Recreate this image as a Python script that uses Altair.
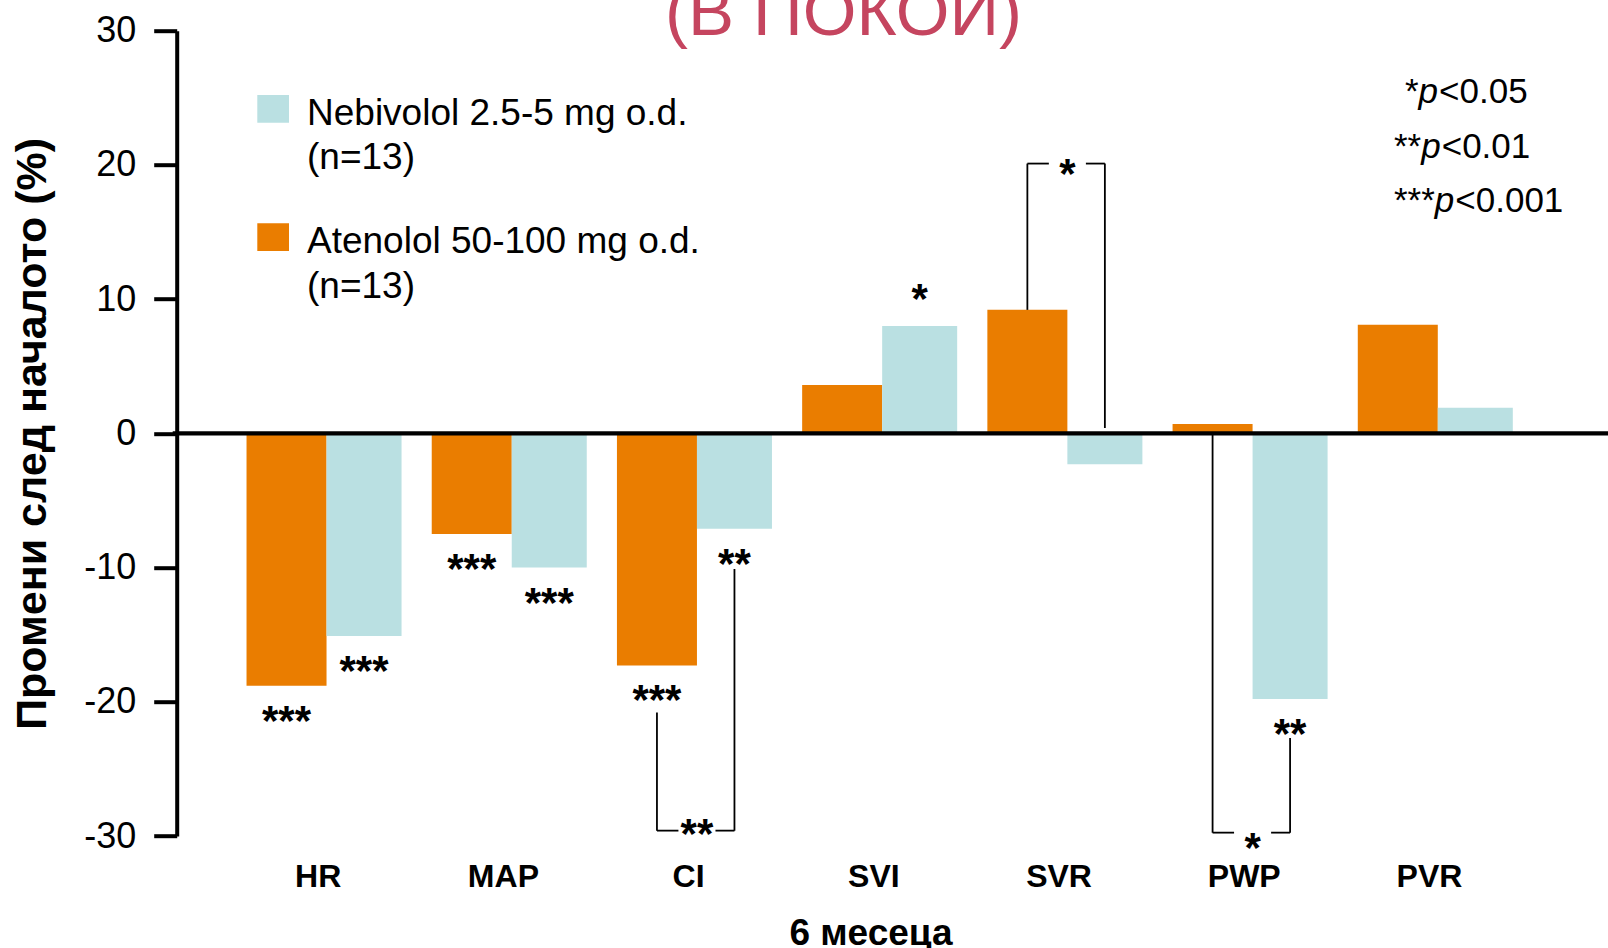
import altair as alt
import pandas as pd

# ---- data -------------------------------------------------------------
categories = ["HR", "MAP", "CI", "SVI", "SVR", "PWP", "PVR"]
atenolol = [-18.8, -7.5, -17.3, 3.6, 9.2, 0.7, 8.1]
nebivolol = [-15.1, -10.0, -7.1, 8.0, -2.3, -19.8, 1.9]

# significance marks on single bars (empty = none)
atenolol_sig = ["***", "***", "***", "", "", "", ""]
nebivolol_sig = ["***", "***", "**", "*", "", "**", ""]

# between-group brackets: category, level, left end, right end, label, label level
bracket_cat = ["CI", "SVR", "PWP"]
bracket_level = [-29.6, 20.1, -29.75]
bracket_left_end = [-20.8, 9.2, 0.0]
bracket_right_end = [-10.1, 0.4, -22.7]
bracket_label = ["**", "*", "*"]
bracket_label_y = [-29.45, 19.7, -30.5]

legend_names = ["Nebivolol 2.5-5 mg o.d.", "Atenolol 50-100 mg o.d."]
legend_n = ["(n=13)", "(n=13)"]
p_prefix = ["*", "**", "***"]
p_rest = ["<0.05", "<0.01", "<0.001"]

# ---- layout -------------------------------------------------------------
L, T = 176.7, 30.7
W, H = 1608 - L, 805.3
B = 948 - T - H
FONT = "Liberation Sans"
ORANGE = "#EA7D00"
BLUE = "#BAE0E2"

X_DOMAIN = [-0.809, 6.919]
ORANGE_W, BLUE_W = 0.432, 0.405
x_scale = alt.Scale(domain=X_DOMAIN, nice=False, zero=False)
y_scale = alt.Scale(domain=[-30, 30], nice=False)

rows = []
for i, c in enumerate(categories):
    rows.append(dict(cat=c, i=i, series="Atenolol", value=atenolol[i],
                     x=i - ORANGE_W, x2=i, xc=i - ORANGE_W / 2, sig=atenolol_sig[i]))
    rows.append(dict(cat=c, i=i, series="Nebivolol", value=nebivolol[i],
                     x=i, x2=i + BLUE_W, xc=i + BLUE_W / 2, sig=nebivolol_sig[i]))
bars_df = pd.DataFrame(rows)

bars = alt.Chart(bars_df).mark_bar(size=1).encode(
    x=alt.X("x:Q", scale=x_scale, axis=None),
    x2="x2:Q",
    y=alt.Y("value:Q", scale=y_scale,
            axis=alt.Axis(values=[30, 20, 10, 0, -10, -20, -30], title="Промени след началото (%)",
                          labelExpr="datum.value < 0 ? '-' + abs(datum.value) : '' + datum.value",
                          labelFont=FONT, labelFontSize=36, labelColor="black", labelPadding=18,
                          tickSize=23, tickWidth=4, tickColor="black",
                          domainWidth=4, domainColor="black", grid=False,
                          titleFont=FONT, titleFontSize=43, titleFontWeight="bold",
                          titleColor="black", titleAngle=270, titleBaseline="alphabetic",
                          titleAlign="center", titleX=45 - L, titleY=H / 2)),
    y2=alt.datum(0),
    color=alt.Color("series:N", scale=alt.Scale(domain=["Atenolol", "Nebivolol"],
                                                range=[ORANGE, BLUE]), legend=None),
)

zero_line = alt.Chart(pd.DataFrame({"v": [0]})).mark_rule(color="black", strokeWidth=4.3).encode(
    y=alt.Y("v:Q", scale=y_scale), x=alt.value(-4), x2=alt.value(W))

STAR = 42
STAR_DY = 0.57 * STAR - 5
star_base = alt.Chart(bars_df).transform_filter("datum.sig != ''")
stars_below = star_base.transform_filter("datum.value < 0").mark_text(
    font=FONT, fontSize=STAR, fontWeight="bold", color="black", baseline="alphabetic",
    dy=30 + STAR_DY).encode(
    x=alt.X("xc:Q", scale=x_scale), y=alt.Y("value:Q", scale=y_scale), text="sig:N")
stars_above = star_base.transform_filter("datum.value >= 0").mark_text(
    font=FONT, fontSize=STAR, fontWeight="bold", color="black", baseline="alphabetic",
    dy=-32 + STAR_DY).encode(
    x=alt.X("xc:Q", scale=x_scale), y=alt.Y("value:Q", scale=y_scale), text="sig:N")

# bracket segments between the two bars of a category
GAP = 0.1
seg = []
lab = []
for c, lev, le, re_, t, ty in zip(bracket_cat, bracket_level, bracket_left_end,
                                  bracket_right_end, bracket_label, bracket_label_y):
    i = categories.index(c)
    xl, xr = i - ORANGE_W / 2, i + BLUE_W / 2
    seg += [dict(x=xl, x2=xl, y=le, y2=lev), dict(x=xl, x2=i - GAP, y=lev, y2=lev),
            dict(x=i + GAP, x2=xr, y=lev, y2=lev), dict(x=xr, x2=xr, y=lev, y2=re_)]
    lab.append(dict(x=i, y=ty, t=t))
brackets = alt.Chart(pd.DataFrame(seg)).mark_rule(color="black", strokeWidth=1.8).encode(
    x=alt.X("x:Q", scale=x_scale), x2="x2:Q", y=alt.Y("y:Q", scale=y_scale), y2="y2:Q")
bracket_stars = alt.Chart(pd.DataFrame(lab)).mark_text(
    font=FONT, fontSize=STAR, fontWeight="bold", color="black", baseline="alphabetic",
    dy=STAR_DY).encode(
    x=alt.X("x:Q", scale=x_scale), y=alt.Y("y:Q", scale=y_scale), text="t:N")

# category labels under the plot
cat_df = pd.DataFrame({"cat": categories, "xc": [i - 0.045 for i in range(len(categories))]})
cat_labels = alt.Chart(cat_df).mark_text(
    font=FONT, fontSize=32, fontWeight="bold", color="black", baseline="alphabetic").encode(
    x=alt.X("xc:Q", scale=x_scale), y=alt.value(887 - T), text="cat:N")

x_title = alt.Chart(pd.DataFrame({"t": ["6 месеца"]})).mark_text(
    font=FONT, fontSize=37, fontWeight="bold", color="black", baseline="alphabetic").encode(
    x=alt.value(871 - L), y=alt.value(945 - T), text="t:N")

title = alt.Chart(pd.DataFrame({"t": ["(В ПОКОЙ)"]})).mark_text(
    font=FONT, fontSize=69, color="#C5455F", baseline="alphabetic").encode(
    x=alt.value(843.5 - L), y=alt.value(35 - T), text="t:N")

# drug legend
leg_df = pd.DataFrame({"name": legend_names, "n": legend_n, "k": [0, 1],
                       "col": [BLUE, ORANGE]})
leg_layers = []
for k in range(2):
    top = 95 + 128.3 * k
    one = alt.Chart(leg_df[leg_df.k == k])
    leg_layers.append(one.mark_rect(color=leg_df.col[k]).encode(
        x=alt.value(257.3 - L), x2=alt.value(289 - L),
        y=alt.value(top - T), y2=alt.value(top + 27.7 - T)))
    leg_layers.append(one.mark_text(font=FONT, fontSize=37, color="black", align="left",
                                    baseline="alphabetic").encode(
        x=alt.value(307 - L), y=alt.value(top + 30 - T), text="name:N"))
    leg_layers.append(one.mark_text(font=FONT, fontSize=37, color="black", align="left",
                                    baseline="alphabetic").encode(
        x=alt.value(307 - L), y=alt.value(top + 74.3 - T), text="n:N"))

# p-value key
PF = 35
p_layers = []
for k, (pre, rest) in enumerate(zip(p_prefix, p_rest)):
    base = [103.3, 158.3, 211.7][k] - T
    x0 = (1405 if k == 0 else 1394) - L
    xp = x0 + len(pre) * 0.389 * PF
    d = alt.Chart(pd.DataFrame({"pre": [pre], "p": ["p"], "rest": [rest]}))
    p_layers.append(d.mark_text(font=FONT, fontSize=PF, color="black", align="left",
                                baseline="alphabetic").encode(
        x=alt.value(x0), y=alt.value(base), text="pre:N"))
    p_layers.append(d.mark_text(font=FONT, fontSize=PF, fontStyle="italic", color="black",
                                align="left", baseline="alphabetic").encode(
        x=alt.value(xp), y=alt.value(base), text="p:N"))
    p_layers.append(d.mark_text(font=FONT, fontSize=PF, color="black", align="left",
                                baseline="alphabetic").encode(
        x=alt.value(xp + 0.556 * PF + 1), y=alt.value(base), text="rest:N"))

chart = alt.layer(
    bars, zero_line, brackets, stars_below, stars_above, bracket_stars,
    cat_labels, x_title, title, *leg_layers, *p_layers
).properties(
    width=W, height=H,
    padding={"left": L, "top": T, "right": 0, "bottom": B},
    autosize=alt.AutoSizeParams(type="none"),
    background="white",
).configure_view(stroke=None)

chart.save("out.html", embed_options={"renderer": "svg", "actions": False})
